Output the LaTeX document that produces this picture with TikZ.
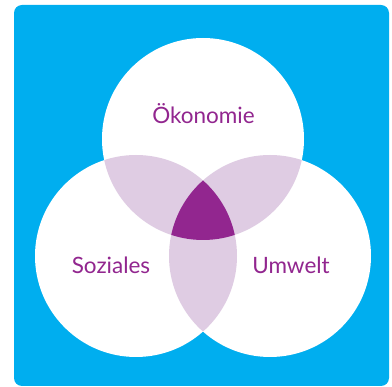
\documentclass[tikz,border=0pt]{standalone}
\usepackage{fontspec}
\setmainfont{Lato}
\definecolor{bg}{RGB}{0,174,239}
\definecolor{lens}{RGB}{223,204,227}
\definecolor{core}{RGB}{146,38,143}
\tikzset{
  label/.style={anchor=base, inner sep=0pt, text=core, font=\fontsize{22.5}{27}\selectfont},
  venn/.style={radius=101}
}
\begin{document}
\begin{tikzpicture}[x=1pt,y=-1pt]
\useasboundingbox (0,0) rectangle (392,387);
\fill[bg, rounded corners=8pt] (14,5) rectangle (389,386);
\coordinate (T) at (203,139);
\coordinate (L) at (136,256);
\coordinate (R) at (270,256);
\fill[white] (T) circle[venn];
\fill[white] (L) circle[venn];
\fill[white] (R) circle[venn];
\begin{scope}
  \clip (T) circle[venn];
  \fill[lens] (L) circle[venn];
  \fill[lens] (R) circle[venn];
\end{scope}
\begin{scope}
  \clip (L) circle[venn];
  \fill[lens] (R) circle[venn];
\end{scope}
\begin{scope}
  \clip (T) circle[venn];
  \clip (L) circle[venn];
  \fill[core] (R) circle[venn];
\end{scope}
\node[label] (oek) at (203.5,124) {Ökonomie};
\node[label] (soz) at (111,274) {Soziales};
\node[label] (umw) at (291,274) {Umwelt};
\end{tikzpicture}
\end{document}
